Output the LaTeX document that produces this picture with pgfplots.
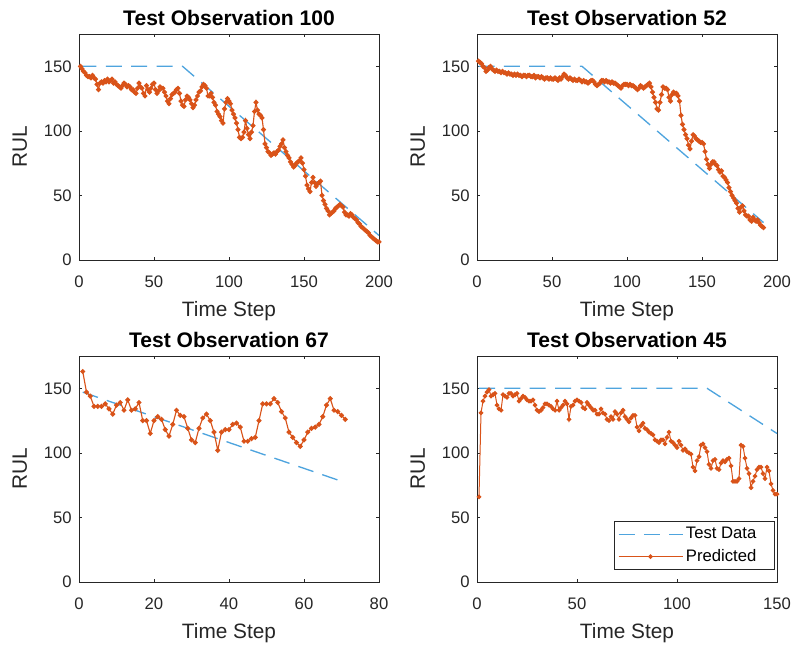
\documentclass[border=0pt]{standalone}
\usepackage{pgfplots}
\pgfplotsset{compat=1.18}
\usepackage{fontspec}
\setmainfont{Liberation Sans}
\definecolor{mblue}{RGB}{78,164,222}
\definecolor{morange}{RGB}{217,83,25}
\definecolor{axgray}{RGB}{38,38,38}
\pgfplotsset{
  rulax/.style={
    scale only axis, width=225pt, height=169.5pt,
    ymin=0, ymax=175, ytick={0,50,100,150},
    tick align=inside, xtick pos=both, ytick pos=both,
    major tick length=2.5pt,
    axis line style={axgray, line width=0.6pt},
    every tick/.style={axgray, line width=0.5pt},
    tick label style={font=\fontsize{12.5}{14}\selectfont, text=axgray},
    xticklabel style={yshift=-8.5pt},
    yticklabel style={xshift=-2pt},
    /pgf/number format/assume math mode=true,
    label style={font=\fontsize{15.6}{17}\selectfont, text=axgray},
    title style={font=\fontsize{15.8}{17}\selectfont\bfseries, at={(axis description cs:0.5,1.036)}, anchor=center},
    xlabel={Time Step}, ylabel={RUL},
    xlabel style={at={(axis description cs:0.5,-0.226)}, anchor=center},
    ylabel style={at={(axis description cs:-0.197,0.5)}, anchor=center},
    clip=true,
  },
  testline/.style={mblue, line width=1pt, dash pattern=on 12pt off 7pt, no marks},
  predline/.style={morange, line width=0.85pt, mark=*, mark size=1.45pt, mark options={solid, fill=morange, draw=morange}},
}
\begin{document}
\begin{tikzpicture}
\useasboundingbox (0,0) rectangle (596.25pt,483pt);
% Top-left
\begin{axis}[rulax, at={(59.25pt,288pt)}, anchor=south west, xmin=0, xmax=200, xtick={0,50,100,150,200},
  title={Test Observation 100}]
\addplot[testline] coordinates {(1,150) (69,150) (200,19)};
\addplot[predline] coordinates {
(1,150)(2,148)(3,146)(4,145)(5,143)(6,142)(7,142)(8,141)(9,143)(10,141)
(11,140)(12,136)(13,132)(14,137)(15,138)(16,137)(17,139)(18,138)(19,140)(20,138)
(21,139)(22,140)(23,137)(24,138)(25,136)(26,135)(27,134)(28,133)(29,135)(30,137)
(31,136)(32,134)(33,135)(34,134)(35,132)(36,132)(37,130)(38,129)(39,133)(40,137)
(41,134)(42,133)(43,129)(44,127)(45,135)(46,132)(47,130)(48,133)(49,136)(50,137)
(51,132)(52,129)(53,131)(54,134)(55,133)(56,133)(57,130)(58,127)(59,123)(60,121)
(61,125)(62,128)(63,129)(64,130)(65,132)(66,133)(67,129)(68,123)(69,120)(70,119)
(71,124)(72,127)(73,126)(74,124)(75,121)(76,118)(77,120)(78,124)(79,127)(80,130)
(81,131)(82,134)(83,136)(84,135)(85,133)(86,127)(87,127)(88,129)(89,126)(90,122)
(91,120)(92,115)(93,113)(94,111)(95,108)(96,106)(97,117)(98,122)(99,125)(100,123)
(101,121)(102,116)(103,113)(104,110)(105,106)(106,101)(107,95)(108,94)(109,95)(110,99)
(111,108)(112,102)(113,97)(114,94)(115,99)(116,104)(117,115)(118,122)(119,116)(120,113)
(121,112)(122,110)(123,101)(124,90)(125,87)(126,84)(127,83)(128,81)(129,82)(130,83)
(131,82)(132,84)(133,85)(134,88)(135,90)(136,93)(137,87)(138,84)(139,81)(140,79)
(141,76)(142,74)(143,72)(144,73)(145,75)(146,76)(147,77)(148,79)(149,75)(150,70)
(151,65)(152,58)(153,55)(154,53)(155,60)(156,64)(157,60)(158,57)(159,59)(160,60)
(161,61)(162,50)(163,46)(164,43)(165,40)(166,38)(167,35)(168,36)(169,37)(170,38)
(171,40)(172,41)(173,42)(174,43)(175,42)(176,41)(177,37)(178,35)(179,35)(180,34)
(181,36)(182,35)(183,33)(184,32)(185,31)(186,29)(187,28)(188,26)(189,25)(190,24)
(191,23)(192,22)(193,21)(194,19)(195,18)(196,17)(197,16)(198,15)(199,14)(200,14)
};
\end{axis}
% Top-right
\begin{axis}[rulax, at={(357.75pt,288pt)}, anchor=south west, xmin=0, xmax=200, xtick={0,50,100,150,200},
  title={Test Observation 52}]
\addplot[testline] coordinates {(1,150) (70,150) (191,29)};
\addplot[predline] coordinates {
(1,154)(2,153)(3,152)(4,150)(5,149)(6,146)(7,147)(8,149)(9,150)(10,148)
(11,147)(12,146)(13,147)(14,146)(15,146)(16,145)(17,146)(18,145)(19,145)(20,144)
(21,145)(22,144)(23,144)(24,143)(25,144)(26,143)(27,144)(28,143)(29,143)(30,142)
(31,143)(32,143)(33,142)(34,143)(35,143)(36,142)(37,142)(38,143)(39,141)(40,142)
(41,142)(42,141)(43,142)(44,141)(45,140)(46,141)(47,141)(48,140)(49,141)(50,140)
(51,140)(52,141)(53,140)(54,139)(55,141)(56,140)(57,142)(58,144)(59,143)(60,141)
(61,140)(62,141)(63,140)(64,139)(65,140)(66,139)(67,139)(68,140)(69,139)(70,138)
(71,139)(72,138)(73,138)(74,137)(75,138)(76,139)(77,139)(78,138)(79,136)(80,135)
(81,136)(82,137)(83,139)(84,139)(85,138)(86,139)(87,138)(88,138)(89,137)(90,138)
(91,137)(92,137)(93,136)(94,135)(95,134)(96,133)(97,135)(98,136)(99,136)(100,136)
(101,135)(102,136)(103,135)(104,135)(105,134)(106,133)(107,132)(108,133)(109,135)(110,134)
(111,133)(112,134)(113,135)(114,136)(115,137)(116,134)(117,130)(118,126)(119,122)(120,117)
(121,116)(122,122)(123,128)(124,134)(125,133)(126,133)(127,132)(128,126)(129,123)(130,128)
(131,130)(132,129)(133,129)(134,127)(135,123)(136,112)(137,105)(138,101)(139,97)(140,94)
(141,89)(142,86)(143,92)(144,97)(145,96)(146,94)(147,93)(148,92)(149,91)(150,91)
(151,90)(152,84)(153,78)(154,74)(155,71)(156,74)(157,76)(158,76)(159,74)(160,73)
(161,70)(162,68)(163,69)(164,65)(165,64)(166,62)(167,60)(168,56)(169,53)(170,50)
(171,48)(172,46)(173,44)(174,40)(175,37)(176,41)(177,42)(178,38)(179,35)(180,34)
(181,34)(182,31)(183,30)(184,33)(185,31)(186,30)(187,31)(188,29)(189,27)(190,26)
(191,25)
};
\end{axis}
% Bottom-left
\begin{axis}[rulax, at={(59.25pt,46.5pt)}, anchor=south west, xmin=0, xmax=80, xtick={0,20,40,60,80},
  title={Test Observation 67}]
\addplot[testline] coordinates {(1,147) (71,77)};
\addplot[predline] coordinates {
(1,163)(2,147)(3,144)(4,136)(5,136)(6,136)(7,138)(8,134)(9,130)(10,137)
(11,139)(12,133)(13,141)(14,133)(15,134)(16,139)(17,125)(18,125)(19,115)(20,125)
(21,128)(22,126)(23,118)(24,113)(25,122)(26,133)(27,129)(28,128)(29,119)(30,110)
(31,108)(32,119)(33,127)(34,130)(35,125)(36,116)(37,102)(38,116)(39,118)(40,118)
(41,122)(42,123)(43,120)(44,109)(45,109)(46,111)(47,112)(48,125)(49,138)(50,138)
(51,138)(52,142)(53,139)(54,132)(55,127)(56,116)(57,112)(58,108)(59,105)(60,110)
(61,116)(62,119)(63,120)(64,122)(65,128)(66,137)(67,142)(68,133)(69,132)(70,129)
(71,126)
};
\end{axis}
% Bottom-right
\begin{axis}[rulax, at={(357.75pt,46.5pt)}, anchor=south west, xmin=0, xmax=150, xtick={0,50,100,150},
  title={Test Observation 45},
  legend style={at={(0.993,0.053)}, anchor=south east, draw=axgray, line width=0.5pt,
    font=\fontsize{12.5}{14}\selectfont, inner sep=2.5pt, row sep=2.5pt},
  legend cell align=left,
  legend image code/.code={\draw[mark repeat=2,mark phase=2,#1] plot coordinates {(0pt,0pt) (24pt,0pt) (48pt,0pt)};}]
\addplot[testline] coordinates {(1,150) (115,150) (150,115)};
\addlegendentry{\makebox[62pt][l]{Test Data}}
\addplot[predline, line width=0.75pt, mark size=1.35pt] coordinates {
(1,66)(2,131)(3,140)(4,144)(5,147)(6,149)(7,144)(8,145)(9,146)(10,137)
(11,134)(12,133)(13,145)(14,144)(15,143)(16,146)(17,146)(18,144)(19,145)(20,146)
(21,140)(22,142)(23,144)(24,143)(25,141)(26,140)(27,140)(28,141)(29,137)(30,133)
(31,132)(32,133)(33,135)(34,138)(35,138)(36,137)(37,136)(38,134)(39,133)(40,140)
(41,133)(42,135)(43,137)(44,140)(45,138)(46,126)(47,136)(48,137)(49,140)(50,141)
(51,140)(52,139)(53,135)(54,134)(55,139)(56,137)(57,135)(58,133)(59,133)(60,130)
(61,130)(62,134)(63,131)(64,130)(65,126)(66,125)(67,128)(68,126)(69,132)(70,130)
(71,126)(72,131)(73,133)(74,128)(75,126)(76,124)(77,127)(78,129)(79,129)(80,120)
(81,117)(82,121)(83,123)(84,119)(85,118)(86,116)(87,115)(88,114)(89,110)(90,109)
(91,108)(92,110)(93,110)(94,107)(95,112)(96,116)(97,109)(98,108)(99,106)(100,104)
(101,109)(102,106)(103,102)(104,103)(105,101)(106,100)(107,99)(108,89)(109,86)(110,94)
(111,97)(112,106)(113,107)(114,104)(115,101)(116,91)(117,88)(118,94)(119,95)(120,88)
(121,87)(122,92)(123,94)(124,93)(125,95)(126,96)(127,90)(128,78)(129,78)(130,78)
(131,80)(132,106)(133,105)(134,96)(135,88)(136,84)(137,73)(138,78)(139,82)(140,87)
(141,89)(142,89)(143,84)(144,80)(145,89)(146,86)(147,76)(148,71)(149,68)(150,68)
};
\addlegendentry{Predicted}
\end{axis}
\end{tikzpicture}
\end{document}
